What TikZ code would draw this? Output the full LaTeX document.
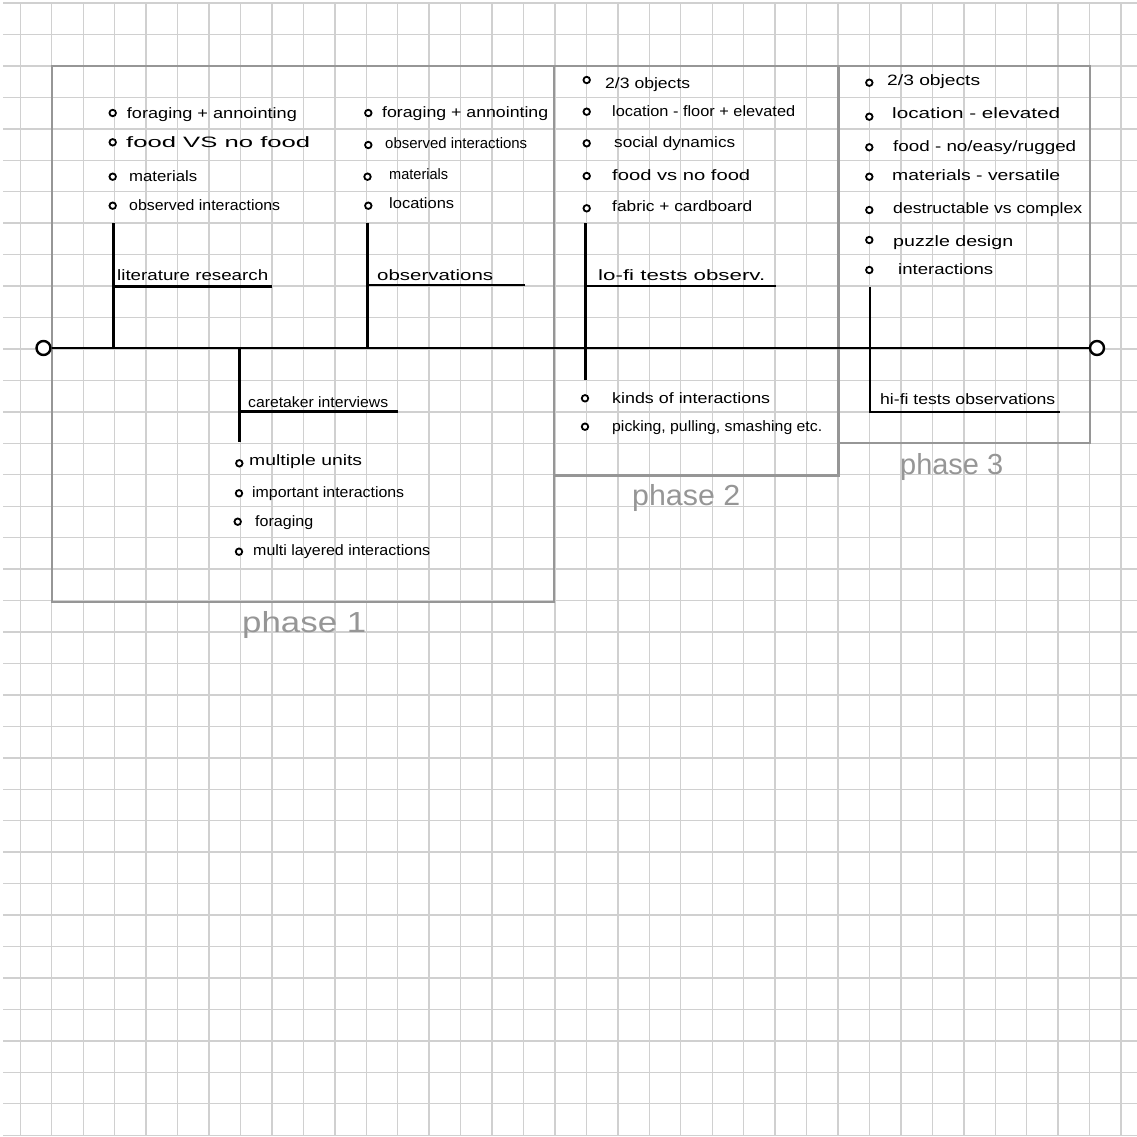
\documentclass[tikz,border=0pt]{standalone}
\usepackage{fontspec}
\usepackage{graphicx}
\setmainfont{Liberation Sans}
\usetikzlibrary{fit}
\definecolor{gridc}{RGB}{208,208,208}
\definecolor{boxc}{RGB}{150,150,150}
\definecolor{phasec}{RGB}{150,150,150}
\newcommand\hwtxt[2]{\resizebox{#1pt}{\height}{#2}}
\tikzset{
  gridline/.style={draw=gridc, line width=1.4pt},
  phasebox/.style={draw=boxc, line width=2.6pt, inner sep=0pt, rectangle},
  bone/.style={draw=black, line width=2.9pt},
  endcirc/.style={circle, draw=black, line width=2.4pt, fill=white, minimum size=14pt, inner sep=0pt},
  dot/.style={circle, draw=black, line width=1.8pt, fill=white, minimum size=6.5pt, inner sep=0pt},
  item/.style={anchor=base west, inner sep=0pt, font=\fontsize{15}{17}\selectfont, text=black},
  phaselabel/.style={anchor=base west, inner sep=0pt, font=\fontsize{29}{33}\selectfont, text=phasec},
}
\begin{document}
\begin{tikzpicture}[x=1pt,y=-1pt]
\fill[white] (0,0) rectangle (1137,1136);
\useasboundingbox (0,0) rectangle (1137,1136);
% grid
\foreach \k in {0,...,35} { \draw[gridline] ({20.3+31.45*\k},3) -- ({20.3+31.45*\k},1136); }
\foreach \k in {0,...,36} { \draw[gridline] (3,{3+31.45*\k}) -- (1137,{3+31.45*\k}); }
% phase boxes
\node[phasebox, fit={(52,66) (554,602)}] (box1) {};
\node[phasebox, fit={(554,66) (838.5,475.5)}] (box2) {};
\node[phasebox, fit={(838.5,66) (1090,443)}] (box3) {};
% spine
\node[endcirc] (start) at (43.5,348) {};
\node[endcirc] (end) at (1097,348) {};
\draw[bone] (start) -- (end);
% branch coordinates
\coordinate (litT) at (113.5,223); \coordinate (litB) at (113.5,348);
\coordinate (litL) at (113.5,286.5); \coordinate (litE) at (272,286.5);
\coordinate (obsT) at (367.5,223); \coordinate (obsB) at (367.5,348);
\coordinate (obsL) at (367.5,285); \coordinate (obsE) at (525,285);
\coordinate (carT) at (239.5,348); \coordinate (carB) at (239.5,442);
\coordinate (carL) at (239.5,411.5); \coordinate (carE) at (398,411.5);
\coordinate (lofT) at (585.5,223); \coordinate (lofB) at (585.5,380);
\coordinate (lofL) at (585.5,286); \coordinate (lofE) at (776,286);
\coordinate (hifT) at (870,287); \coordinate (hifB) at (870,412);
\coordinate (hifE) at (1060,412);
\draw[bone] (litT) -- (litB); \draw[bone] (litL) -- (litE);
\draw[bone] (obsT) -- (obsB); \draw[bone] (obsL) -- (obsE);
\draw[bone] (carT) -- (carB); \draw[bone] (carL) -- (carE);
\draw[bone] (lofT) -- (lofB); \draw[bone] (lofL) -- (lofE);
\draw[bone, line join=miter] (hifT) -- (hifB) -- (hifE);
% branch labels
\node[item] (litlab) at (117,280) {\hwtxt{151}{literature research}};
\node[item] (obslab) at (377,280) {\hwtxt{116}{observations}};
\node[item] (carlab) at (248,407) {\hwtxt{140}{caretaker interviews}};
\node[item] (loflab) at (598,280) {\hwtxt{167}{lo-fi tests observ.}};
\node[item] (hiflab) at (880,404) {\hwtxt{175}{hi-fi tests observations}};
% literature research items
\node[dot] (l1) at (112.7,113) {}; \node[item] (lt1) at (126.7,118) {\hwtxt{170}{foraging + annointing}};
\node[dot] (l2) at (112.7,142.3) {}; \node[item] (lt2) at (126,147) {\hwtxt{184}{food VS no food}};
\node[dot] (l3) at (112.7,176.7) {}; \node[item] (lt3) at (129,181) {\hwtxt{68}{materials}};
\node[dot] (l4) at (112.7,205.7) {}; \node[item] (lt4) at (129,210) {\hwtxt{151}{observed interactions}};
% observations items
\node[dot] (o1) at (368.3,113) {}; \node[item] (ot1) at (382,117) {\hwtxt{166}{foraging + annointing}};
\node[dot] (o2) at (368.3,145) {}; \node[item] (ot2) at (385,148) {\hwtxt{142}{observed interactions}};
\node[dot] (o3) at (367.5,176.7) {}; \node[item] (ot3) at (389,179) {\hwtxt{59}{materials}};
\node[dot] (o4) at (368.3,205.7) {}; \node[item] (ot4) at (389,208) {\hwtxt{65}{locations}};
% caretaker items
\node[dot] (c1) at (239.3,463.3) {}; \node[item] (ct1) at (249,465) {\hwtxt{113}{multiple units}};
\node[dot] (c2) at (239,493.3) {}; \node[item] (ct2) at (252,497) {\hwtxt{152}{important interactions}};
\node[dot] (c3) at (237.7,521.7) {}; \node[item] (ct3) at (255,526) {\hwtxt{58}{foraging}};
\node[dot] (c4) at (239,551.7) {}; \node[item] (ct4) at (253,555) {\hwtxt{177}{multi layered interactions}};
% lo-fi items
\node[dot] (f1) at (586.7,80) {}; \node[item] (ft1) at (605,88) {\hwtxt{85}{2/3 objects}};
\node[dot] (f2) at (586.7,111.7) {}; \node[item] (ft2) at (612,116) {\hwtxt{183}{location - floor + elevated}};
\node[dot] (f3) at (586.7,143.3) {}; \node[item] (ft3) at (614,147) {\hwtxt{121}{social dynamics}};
\node[dot] (f4) at (586.7,176) {}; \node[item] (ft4) at (612,180) {\hwtxt{138}{food vs no food}};
\node[dot] (f5) at (586.7,208.3) {}; \node[item] (ft5) at (612,211) {\hwtxt{140}{fabric + cardboard}};
\node[dot] (f6) at (585,398.3) {}; \node[item] (ft6) at (612,403) {\hwtxt{158}{kinds of interactions}};
\node[dot] (f7) at (585,426.7) {}; \node[item] (ft7) at (612,431) {\hwtxt{210}{picking, pulling, smashing etc.}};
% hi-fi items
\node[dot] (h1) at (869.3,82.7) {}; \node[item] (ht1) at (887,85) {\hwtxt{93}{2/3 objects}};
\node[dot] (h2) at (869.3,116.7) {}; \node[item] (ht2) at (892,118) {\hwtxt{168}{location - elevated}};
\node[dot] (h3) at (869.3,147.3) {}; \node[item] (ht3) at (893,151) {\hwtxt{183}{food - no/easy/rugged}};
\node[dot] (h4) at (869.3,176.7) {}; \node[item] (ht4) at (892,180) {\hwtxt{168}{materials - versatile}};
\node[dot] (h5) at (869.3,210) {}; \node[item] (ht5) at (893,213) {\hwtxt{189}{destructable vs complex}};
\node[dot] (h6) at (869.3,240) {}; \node[item] (ht6) at (893,246) {\hwtxt{120}{puzzle design}};
\node[dot] (h7) at (869.3,270) {}; \node[item] (ht7) at (898,274) {\hwtxt{95}{interactions}};
% phase labels
\node[phaselabel] (ph1) at (242,632) {\hwtxt{124}{phase 1}};
\node[phaselabel] (ph2) at (632,505) {\hwtxt{108}{phase 2}};
\node[phaselabel] (ph3) at (900,474) {\hwtxt{103}{phase 3}};
\end{tikzpicture}
\end{document}
